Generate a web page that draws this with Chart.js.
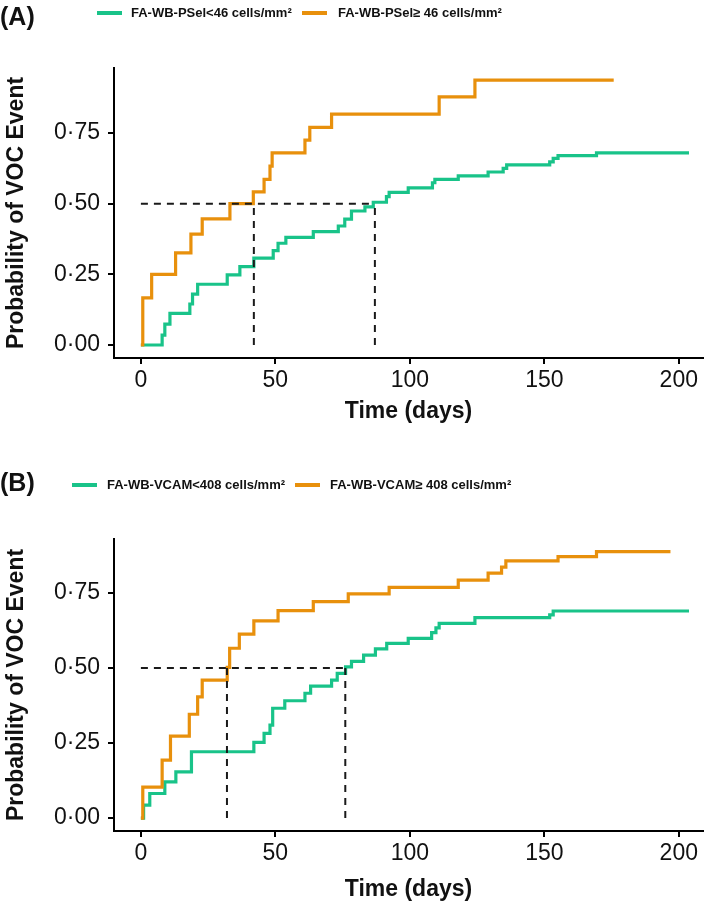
<!DOCTYPE html>
<html>
<head>
<meta charset="utf-8">
<title>Probability of VOC event</title>
<script src="https://cdn.jsdelivr.net/npm/chart.js@4.4.1/dist/chart.umd.min.js"></script>
<style>
  body { margin: 0; background: #fff; font-family: "Liberation Sans", Arial, sans-serif; }
  #page { position: relative; width: 709px; height: 907px; overflow: hidden; }
  .panel { position: absolute; left: 0; width: 709px; }
  .tag { position: absolute; font-weight: bold; font-size: 25px; color: #111; }
  .item { position: absolute; font-weight: bold; font-size: 13px; color: #111; white-space: nowrap; line-height: 16px; }
  .key { position: absolute; width: 25px; height: 4px; }
</style>
</head>
<body>
<div id="page">
  <div class="panel" id="panelA" style="top:0;height:440px;">
    <canvas id="chartA" width="709" height="440"></canvas>
  </div>
  <div class="panel" id="panelB" style="top:440px;height:467px;">
    <canvas id="chartB" width="709" height="467"></canvas>
  </div>
</div>
<script>
// axis ticks
var xTicks = [0, 50, 100, 150, 200];
var yTicks = [0, 0.25, 0.5, 0.75];

var green = "#19c389",
    orange = "#e8900c";

// Panel A: P-selectin groups
var labelsA = ["FA-WB-PSel<46 cells/mm\u00b2", "FA-WB-PSel\u2265 46 cells/mm\u00b2"];
var greenTimesA = [0, 7.9, 8.9, 10.8, 18.2, 19.2, 21.1, 32.1, 36.8, 42, 49.2, 51, 53.9, 64.1, 73.4, 75.8, 78.3, 83.3, 86.4, 91.3, 92.3, 99.4, 108.4, 109.3, 118, 129.1, 134.7, 136, 152, 153.3, 155.1, 169.4, 203.8];
var greenProbA  = [0, 0.035, 0.074, 0.112, 0.145, 0.18, 0.215, 0.248, 0.277, 0.307, 0.334, 0.36, 0.381, 0.401, 0.421, 0.445, 0.474, 0.489, 0.505, 0.525, 0.54, 0.556, 0.574, 0.586, 0.598, 0.612, 0.625, 0.637, 0.648, 0.66, 0.67, 0.68, 0.68];
var orangeTimesA = [0, 0.7, 4.0, 12.9, 18.6, 22.8, 33.1, 41.8, 45.8, 48, 48.8, 61, 62.8, 70.9, 110.9, 124.2, 175.8];
var orangeProbA  = [0, 0.167, 0.25, 0.326, 0.392, 0.446, 0.5, 0.542, 0.586, 0.633, 0.68, 0.725, 0.77, 0.817, 0.878, 0.937, 0.937];
var mediansA = [42, 87];

// Panel B: VCAM groups
var labelsB = ["FA-WB-VCAM<408 cells/mm\u00b2", "FA-WB-VCAM\u2265 408 cells/mm\u00b2"];
var greenTimesB = [0, 1, 3.3, 8.9, 13, 18.8, 42, 45.8, 48, 49, 53.5, 61, 63.1, 70.9, 73, 76.1, 78.3, 82.8, 87.2, 91.4, 99.4, 108.1, 109.7, 110.9, 124.2, 152, 153.3, 203.8];
var greenProbB  = [0, 0.043, 0.082, 0.121, 0.154, 0.221, 0.252, 0.282, 0.31, 0.366, 0.391, 0.416, 0.44, 0.46, 0.482, 0.504, 0.522, 0.543, 0.564, 0.582, 0.599, 0.618, 0.634, 0.649, 0.668, 0.677, 0.69, 0.69];
var orangeTimesB = [0, 0.7, 7.9, 11, 18, 21.1, 22.8, 32.1, 33, 36.6, 42, 51, 64.1, 77.1, 92.3, 118, 129.1, 134.1, 135.7, 155.1, 169.4, 196.9];
var orangeProbB  = [0, 0.103, 0.193, 0.273, 0.346, 0.404, 0.46, 0.502, 0.566, 0.613, 0.657, 0.691, 0.721, 0.747, 0.769, 0.793, 0.816, 0.836, 0.857, 0.871, 0.888, 0.888];
var mediansB = [32, 76];

var fontFamily = '"Liberation Sans", Arial, sans-serif';

function toPoints(times, probs) {
  return times.map(function (t, i) { return { x: t, y: probs[i] }; });
}

// dashed guide lines at the median survival
function medianLines(meds) {
  var last = meds[meds.length - 1];
  var pts = [{ x: 0, y: 0.5 }, { x: last, y: 0.5 }, { x: last, y: null }];
  meds.forEach(function (m) {
    pts.push({ x: m, y: 0 }, { x: m, y: 0.5 }, { x: m, y: null });
  });
  return pts;
}

function addTag(panel, text, top) {
  var tag = document.createElement("div");
  tag.className = "tag";
  tag.style.left = "0px";
  tag.style.top = top + "px";
  tag.textContent = text;
  panel.appendChild(tag);
}

function addLegendItem(panel, color, text, keyLeft, textLeft, top) {
  var key = document.createElement("div");
  key.className = "key";
  key.style.background = color;
  key.style.left = keyLeft + "px";
  key.style.top = (top + 6) + "px";
  panel.appendChild(key);
  var item = document.createElement("div");
  item.className = "item";
  item.style.left = textLeft + "px";
  item.style.top = top + "px";
  item.textContent = text;
  panel.appendChild(item);
}

function makeChart(canvasId, d) {
  return new Chart(document.getElementById(canvasId), {
    type: "line",
    data: {
      datasets: [
        {
          data: medianLines(d.medians),
          borderColor: "#1a1a1a",
          borderWidth: 2,
          borderDash: [7, 6],
          pointRadius: 0,
          order: 0
        },
        {
          label: d.labels[1],
          data: toPoints(d.orangeTimes, d.orangeProb),
          borderColor: orange,
          borderWidth: 3.2,
          stepped: "before",
          pointRadius: 0,
          order: 1
        },
        {
          label: d.labels[0],
          data: toPoints(d.greenTimes, d.greenProb),
          borderColor: green,
          borderWidth: 3.2,
          stepped: "before",
          pointRadius: 0,
          order: 2
        }
      ]
    },
    options: {
      responsive: false,
      animation: false,
      layout: { padding: { top: d.top, right: 6, left: 0, bottom: 0 } },
      plugins: { legend: { display: false }, tooltip: { enabled: false } },
      scales: {
        x: {
          type: "linear",
          min: -10,
          max: 209,
          afterBuildTicks: function (s) { s.ticks = xTicks.map(function (v) { return { value: v }; }); },
          afterFit: function (s) { s.height = d.xHeight; },
          border: { display: true, color: "#000", width: 2 },
          grid: { drawOnChartArea: false, color: "#000", lineWidth: 2, tickLength: 6 },
          ticks: { color: "#111", padding: 3, maxRotation: 0, autoSkip: false, font: { family: fontFamily, size: 23 } },
          title: {
            display: true, text: "Time (days)", color: "#111",
            font: { family: fontFamily, size: 23, weight: "bold" },
            padding: { top: 0, bottom: d.titlePad }
          }
        },
        y: {
          type: "linear",
          min: d.yMin,
          max: d.yMax,
          afterBuildTicks: function (s) { s.ticks = yTicks.map(function (v) { return { value: v }; }); },
          afterFit: function (s) { s.width = 114; },
          border: { display: true, color: "#000", width: 2 },
          grid: { drawOnChartArea: false, color: "#000", lineWidth: 2, tickLength: 6 },
          ticks: {
            color: "#111", padding: 8, font: { family: fontFamily, size: 23 },
            callback: function (v) { return v.toFixed(2).replace(".", "\u00b7"); }
          },
          title: {
            display: true, text: "Probability of VOC Event", color: "#111",
            font: { family: fontFamily, size: 23, weight: "bold" },
            padding: { top: 3, bottom: 0 }
          }
        }
      }
    }
  });
}

var panelA = document.getElementById("panelA"),
    panelB = document.getElementById("panelB");

addTag(panelA, "(A)", 2);
addLegendItem(panelA, green, labelsA[0], 97, 131, 5);
addLegendItem(panelA, orange, labelsA[1], 302, 338, 5);

addTag(panelB, "(B)", 28);
addLegendItem(panelB, green, labelsB[0], 72, 107, 37);
addLegendItem(panelB, orange, labelsB[1], 295, 330, 37);

makeChart("chartA", {
  labels: labelsA, greenTimes: greenTimesA, greenProb: greenProbA,
  orangeTimes: orangeTimesA, orangeProb: orangeProbA, medians: mediansA,
  yMin: -0.046, yMax: 0.98, top: 68, xHeight: 82, titlePad: 15
});

makeChart("chartB", {
  labels: labelsB, greenTimes: greenTimesB, greenProb: greenProbB,
  orangeTimes: orangeTimesB, orangeProb: orangeProbB, medians: mediansB,
  yMin: -0.043, yMax: 0.93, top: 99, xHeight: 76, titlePad: 4
});
</script>
</body>
</html>
